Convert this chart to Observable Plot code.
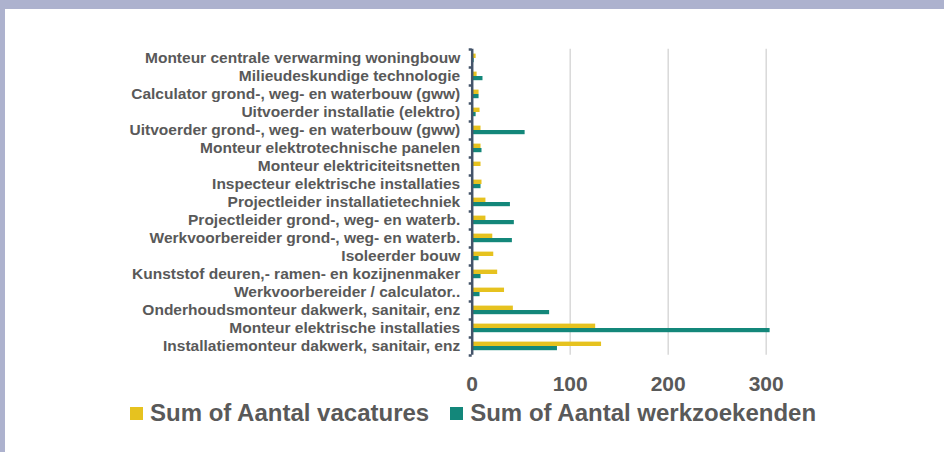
<!DOCTYPE html>
<html>
<head>
<meta charset="utf-8">
<script src="https://cdn.jsdelivr.net/npm/d3@7"></script>
<script src="https://cdn.jsdelivr.net/npm/@observablehq/plot@0.6"></script>
<style>
  html, body { margin: 0; padding: 0; }
  body { background: #adb2ce; width: 944px; height: 452px; overflow: hidden; font-family: "Liberation Sans", Arial, sans-serif; }
  #card { position: absolute; left: 5px; top: 9px; width: 939px; height: 443px; background: #fff; }
  #legend { display: flex; align-items: center; padding-left: 125px; margin-top: 0; height: 24px; line-height: 24px; color: #595959; font-weight: bold; font-size: 24px; }
  .sw { display: inline-block; width: 13px; height: 13px; margin-right: 7px; }
  .item { display: flex; align-items: center; margin-right: 21px; }
</style>
</head>
<body>
<div id="card">
  <div id="chart"></div>
  <div id="legend"></div>
</div>
<script>
const categories = [
  "Monteur centrale verwarming woningbouw",
  "Milieudeskundige technologie",
  "Calculator grond-, weg- en waterbouw (gww)",
  "Uitvoerder installatie (elektro)",
  "Uitvoerder grond-, weg- en waterbouw (gww)",
  "Monteur elektrotechnische panelen",
  "Monteur elektriciteitsnetten",
  "Inspecteur elektrische installaties",
  "Projectleider installatietechniek",
  "Projectleider grond-, weg- en waterb.",
  "Werkvoorbereider grond-, weg- en waterb.",
  "Isoleerder bouw",
  "Kunststof deuren,- ramen- en kozijnenmaker",
  "Werkvoorbereider / calculator..",
  "Onderhoudsmonteur dakwerk, sanitair, enz",
  "Monteur elektrische installaties",
  "Installatiemonteur dakwerk, sanitair, enz"
];
const vacatures = [4, 5, 7, 8, 9, 9, 9, 10, 14, 14, 21, 22, 26, 33, 42, 126, 132];
const werkzoekenden = [2, 11, 7, 4, 54, 10, 0, 9, 39, 43, 41, 7, 9, 8, 79, 304, 87];
const seriesNames = ["Sum of Aantal vacatures", "Sum of Aantal werkzoekenden"];
const seriesColors = ["#e6c21f", "#13877a"];
const xTicks = [0, 100, 200, 300];

const rows = categories.map((c, i) => ({cat: c, vac: vacatures[i], wz: werkzoekenden[i]}));
const textColor = "#595959";

const chart = Plot.plot({
  width: 939,
  height: 392,
  marginLeft: 466.7,
  marginRight: 129.3,
  marginTop: 39.7,
  marginBottom: 46.3,
  style: {fontFamily: "'Liberation Sans', Arial, sans-serif", background: "transparent"},
  x: {domain: [0, 350], ticks: xTicks},
  y: {domain: categories, padding: 0},
  marks: [
    Plot.gridX(xTicks.filter(d => d > 0), {stroke: "#d9d9d9", strokeOpacity: 1, strokeWidth: 1.5}),
    Plot.barX(rows, {y: "cat", x: "vac", fill: seriesColors[0], insetTop: 4.6, insetBottom: 9}),
    Plot.barX(rows, {y: "cat", x: "wz", fill: seriesColors[1], insetTop: 9, insetBottom: 4.8}),
    Plot.ruleX([0], {stroke: "#44546a", strokeWidth: 2.5}),
    Plot.axisY({tickSize: 3, text: null, dy: -9, stroke: "#44546a", strokeWidth: 2.5, label: null}),
    Plot.axisY({ticks: categories.slice(-1), tickSize: 3, text: null, dy: 9, stroke: "#44546a", strokeWidth: 2.5, label: null}),
    Plot.axisY({tickSize: 0, tickPadding: 12, fontSize: 15.5, fontWeight: "bold", fill: textColor, label: null}),
    Plot.axisX({ticks: xTicks, tickSize: 0, tickPadding: 21, fontSize: 21, fontWeight: "bold", fill: textColor, label: null, tickFormat: d3.format("d")})
  ]
});
document.getElementById("chart").appendChild(chart);

const legend = document.getElementById("legend");
seriesNames.forEach((name, i) => {
  const item = document.createElement("span");
  item.className = "item";
  const sw = document.createElement("span");
  sw.className = "sw";
  sw.style.background = seriesColors[i];
  item.appendChild(sw);
  item.appendChild(document.createTextNode(name));
  legend.appendChild(item);
});
</script>
</body>
</html>
